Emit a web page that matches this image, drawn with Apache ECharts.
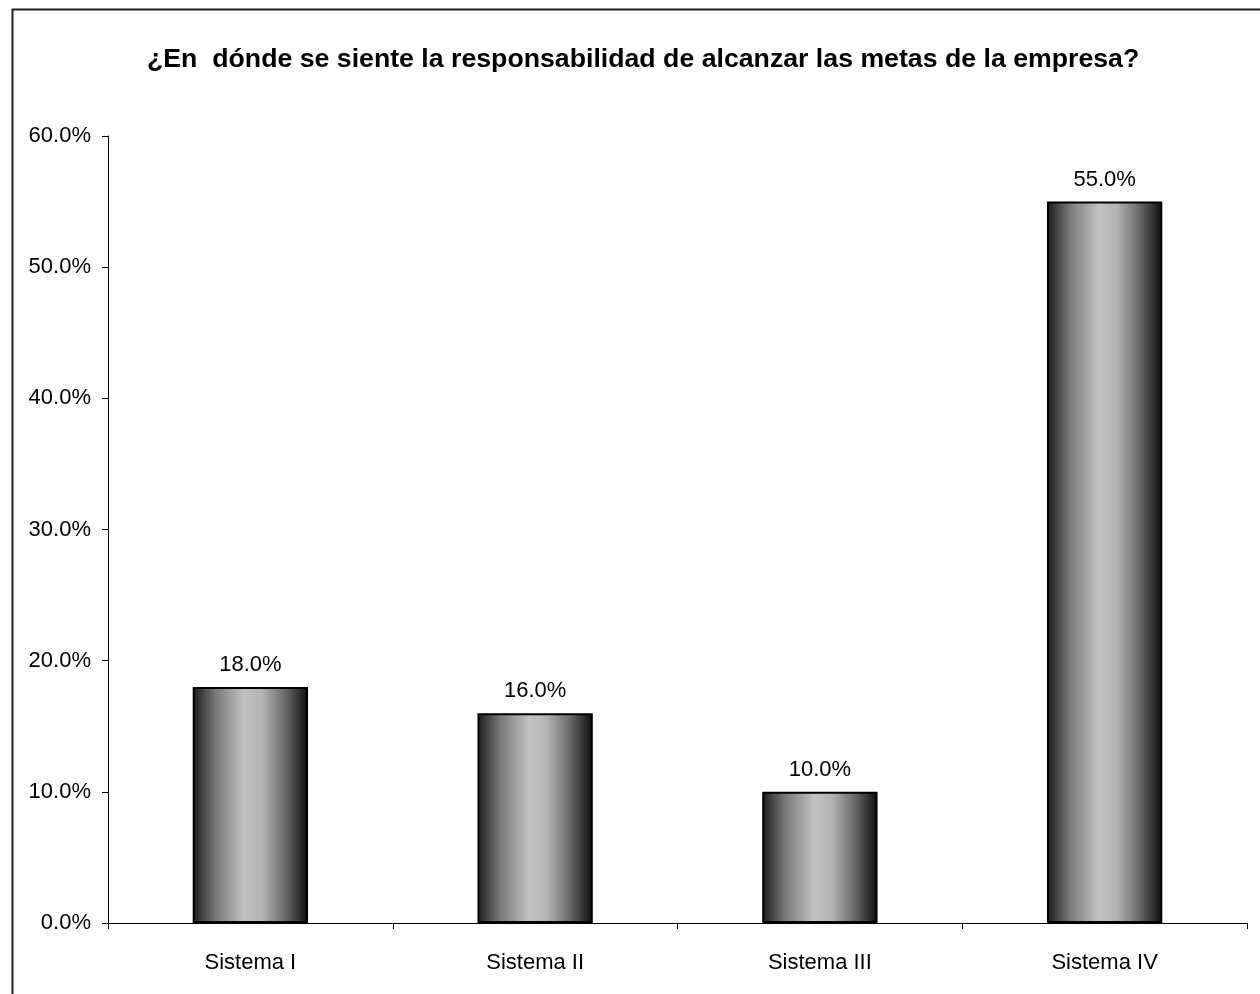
<!DOCTYPE html>
<html><head><meta charset="utf-8">
<script src="https://cdn.jsdelivr.net/npm/echarts@6/dist/echarts.min.js"></script>
<style>html,body{margin:0;padding:0;background:#fff}#c{width:1260px;height:994px}</style>
</head><body><div id="c"></div>
<script>
var categories = ['Sistema I', 'Sistema II', 'Sistema III', 'Sistema IV'];
var values = [18.0, 16.0, 10.0, 55.0];
var titleText = '¿En  dónde se siente la responsabilidad de alcanzar las metas de la empresa?';

var chart = echarts.init(document.getElementById('c'), null, {renderer: 'canvas'});
var font = '"Liberation Sans", Arial, sans-serif';
var grad = new echarts.graphic.LinearGradient(0, 0, 1, 0, [
  {offset: 0, color: '#1a1a1a'},
  {offset: 0.2, color: '#7a7a7a'},
  {offset: 0.45, color: '#c2c2c2'},
  {offset: 0.6, color: '#b4b4b4'},
  {offset: 0.8, color: '#6a6a6a'},
  {offset: 1, color: '#0d0d0d'}
]);
chart.setOption({
  animation: false,
  backgroundColor: '#fff',
  title: {
    text: titleText, left: 147, top: 46, padding: 0,
    textStyle: {fontFamily: font, fontSize: 26.7, fontWeight: 'bold', color: '#000'}
  },
  graphic: [{
    type: 'rect', left: 10, top: 7,
    shape: {width: 1270, height: 1010},
    style: {fill: null, stroke: '#222', lineWidth: 2},
    silent: true
  }],
  grid: {left: 108, right: 13, top: 136, bottom: 71},
  xAxis: {
    type: 'category', data: categories,
    axisLine: {lineStyle: {color: '#000', width: 1}},
    axisTick: {show: true, length: 6, lineStyle: {color: '#000'}},
    axisLabel: {fontFamily: font, fontSize: 22, color: '#000', margin: 29}
  },
  yAxis: {
    type: 'value', min: 0, max: 60, interval: 10,
    axisLine: {show: true, lineStyle: {color: '#000', width: 1}},
    axisTick: {show: true, length: 6, lineStyle: {color: '#000'}},
    splitLine: {show: false},
    axisLabel: {fontFamily: font, fontSize: 22, color: '#000', margin: 17,
      formatter: function (v) { return v.toFixed(1) + '%'; }}
  },
  series: [{
    type: 'bar', data: values, barWidth: '40.5%',
    itemStyle: {color: grad, borderColor: '#000', borderWidth: 2},
    label: {show: true, position: 'top', distance: 11,
      fontFamily: font, fontSize: 22, color: '#000',
      formatter: function (p) { return p.value.toFixed(1) + '%'; }}
  }]
});
</script></body></html>
